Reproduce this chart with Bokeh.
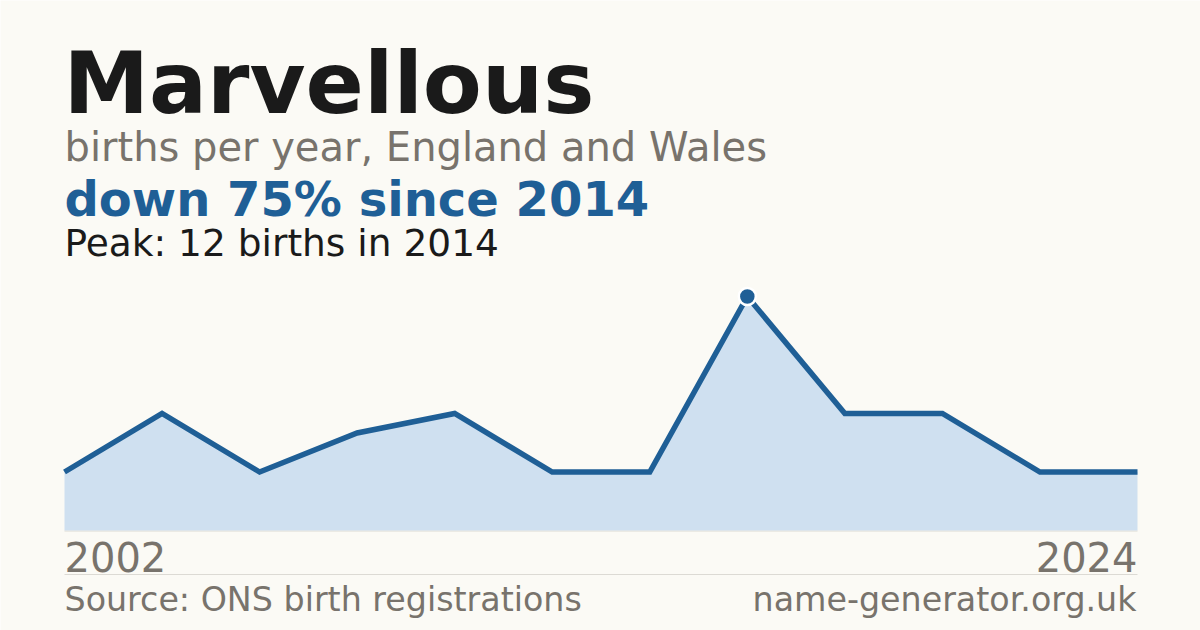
from bokeh.plotting import figure
from bokeh.models import Label, Range1d
from bokeh.embed import file_html
from bokeh.resources import INLINE

# ---- data ----
name = "Marvellous"
years = [2002, 2004, 2006, 2008, 2010, 2011, 2012, 2014, 2016, 2018, 2021, 2024]
births = [3, 6, 3, 5, 6, 3, 3, 12, 6, 6, 3, 3]
subtitle = "births per year, England and Wales"
source = "Source: ONS birth registrations"
site = "name-generator.org.uk"

peak_i = births.index(max(births))
peak_year = years[peak_i]
peak_val = births[peak_i]
change = round((births[-1] - peak_val) / peak_val * 100)
headline = f"{'down' if change < 0 else 'up'} {abs(change)}% since {peak_year}"
peakline = f"Peak: {peak_val} births in {peak_year}"

# ---- layout ----
W, H = 1200, 630
BG = "#fbfaf5"
BLUE = "#1f5f96"
AREA = "#cfe0f0"
GREY = "#78736c"
DARK = "#1a1a1a"
RULE = "#dcdad4"
FONT = "DejaVu Sans"

n = len(births)
left_px, right_px = 64, 1137
base_px, peak_px = 530, 296
xs = (right_px - left_px) / (n - 1)
ys = (base_px - peak_px) / max(births)
x_range = Range1d(-left_px / xs, (n - 1) + (W - right_px) / xs)
y_range = Range1d(-(H - base_px) / ys, base_px / ys)

def ydata(page_y):
    return (base_px - page_y) / ys

p = figure(width=W, height=H, x_range=x_range, y_range=y_range,
           output_backend="svg", toolbar_location=None,
           min_border=0, background_fill_color=BG, border_fill_color=BG,
           outline_line_color=None)
p.axis.visible = False
p.grid.visible = False

idx = list(range(n))
# baseline rule and separator
p.segment(x0=[0, 0], y0=[ydata(530.5), ydata(574)], x1=[n - 1, n - 1],
          y1=[ydata(530.5), ydata(574)], line_color=RULE, line_width=1)
p.varea(x=idx, y1=[0] * n, y2=births, fill_color=AREA)
p.line(idx, births, line_color=BLUE, line_width=5.5, line_join="miter")
p.scatter([peak_i], [peak_val], size=17, fill_color=BLUE,
          line_color="white", line_width=2.5)

def label(text, px, py, size, color, bold=False, align="left"):
    py = py - 0.38 * size + 3
    p.add_layout(Label(x=px, y=H - py, x_units="screen", y_units="screen",
                       text=text, text_font=FONT, text_font_size=f"{size}px",
                       text_color=color, text_align=align,
                       text_baseline="alphabetic",
                       text_font_style="bold" if bold else "normal"))

label(name, 63, 112, 86, DARK, bold=True)
label(subtitle, 64, 159, 40, GREY)
label(headline, 64, 214, 48, BLUE, bold=True)
label(peakline, 64, 254, 37.5, DARK)
label(str(years[0]), 64, 569, 40, GREY)
label(str(years[-1]), 1137, 569, 40, GREY, align="right")
label(source, 64, 609, 33.3, GREY)
label(site, 1136, 609, 33.3, GREY, align="right")

html = file_html(p, INLINE)
html = html.replace("<body>", f'<body style="background:{BG};">', 1)
open("out.html", "w").write(html)
